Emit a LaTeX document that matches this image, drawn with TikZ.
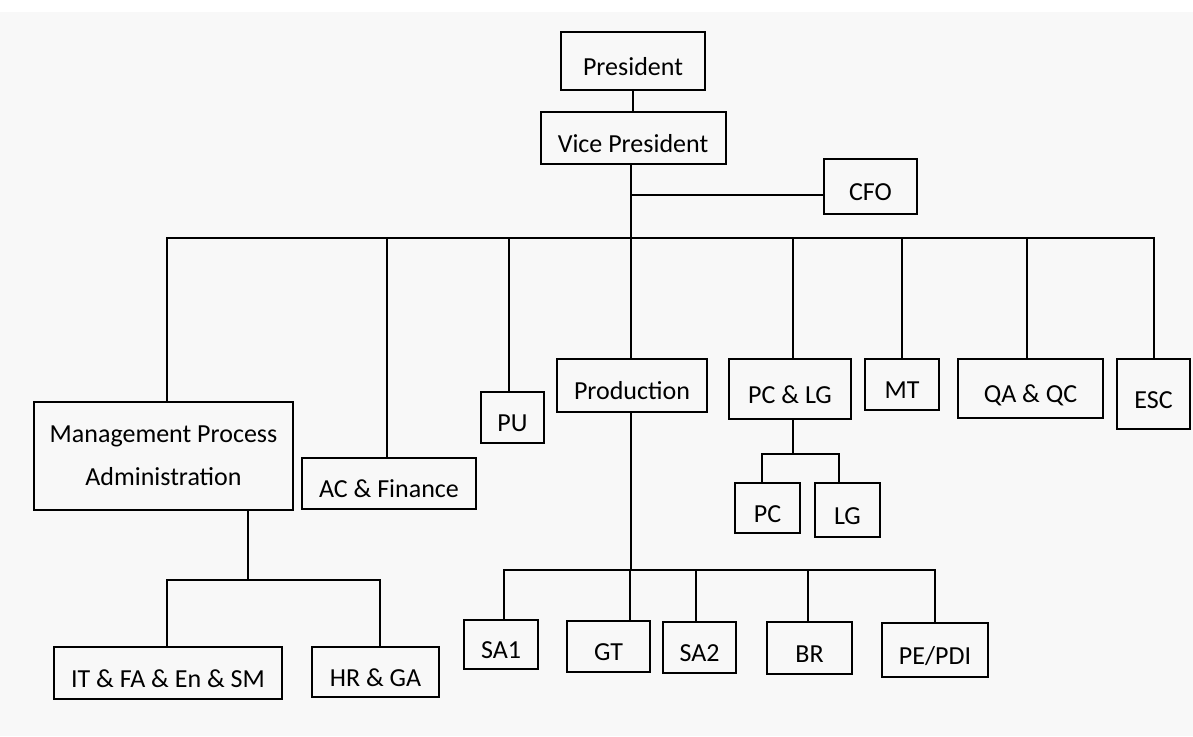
\documentclass[tikz,border=0pt]{standalone}
\usepackage{fontspec}
\setmainfont{Carlito}
\definecolor{paper}{RGB}{248,248,248}
\begin{document}
\begin{tikzpicture}[x=0.75pt,y=-0.75pt,
  unit/.style={draw,line width=1.5pt,inner sep=0pt,outer sep=0pt,
    font=\fontsize{19.5}{32}\selectfont,text height=21.5pt,text depth=0pt},
  link/.style={line width=1.9pt,line cap=rect}]
\useasboundingbox (0,0) rectangle (1193,736);
\fill[paper] (0,12) rectangle (1193,736);
\node[unit,minimum width=108pt,minimum height=43.5pt] (pres) at (633,61) {President};
\node[unit,minimum width=138.75pt,minimum height=39pt] (vp) at (633,138) {Vice President};
\node[unit,minimum width=69.75pt,minimum height=41.25pt] (cfo) at (870.5,186.5) {CFO};
\node[unit,minimum width=194.25pt,minimum height=81pt,align=center,text height={},text depth={}] (mpa) at (163.5,456) {Management Process\\Administration};
\node[unit,minimum width=130.5pt,minimum height=38.25pt] (acf) at (389,483.5) {AC \& Finance};
\node[unit,minimum width=47.25pt,minimum height=38.25pt] (pu) at (512.5,417.5) {PU};
\node[unit,minimum width=112.5pt,minimum height=39.75pt] (prod) at (632,385.5) {Production};
\node[unit,minimum width=91.5pt,minimum height=45pt] (pclg) at (790,389) {PC \& LG};
\node[unit,minimum width=55.5pt,minimum height=38.25pt] (mt) at (902,384.5) {MT};
\node[unit,minimum width=108.75pt,minimum height=44.25pt] (qaqc) at (1030.5,388.5) {QA \& QC};
\node[unit,minimum width=54.75pt,minimum height=52.5pt] (esc) at (1153.5,394) {ESC};
\node[unit,minimum width=48.75pt,minimum height=37.5pt] (pc) at (767.5,508) {PC};
\node[unit,minimum width=48.75pt,minimum height=40.5pt] (lg) at (847.5,510) {LG};
\node[unit,minimum width=171pt,minimum height=39pt] (itfa) at (168,673) {IT \& FA \& En \& SM};
\node[unit,minimum width=95.25pt,minimum height=37.5pt] (hrga) at (375.5,672) {HR \& GA};
\node[unit,minimum width=55.5pt,minimum height=36.75pt] (sa1) at (501,644.5) {SA1};
\node[unit,minimum width=62.25pt,minimum height=38.25pt] (gt) at (608.5,646.5) {GT};
\node[unit,minimum width=54.75pt,minimum height=38.25pt] (sa2) at (699.5,647.5) {SA2};
\node[unit,minimum width=63.75pt,minimum height=39pt] (br) at (809.5,648) {BR};
\node[unit,minimum width=79.5pt,minimum height=40.5pt] (pepdi) at (935,650) {PE/PDI};
\coordinate (cfoj) at (631,195);
\coordinate (bus) at (631,238);
\coordinate (mpaj) at (248,580);
\coordinate (pclgj) at (793,454);
\coordinate (prodj) at (631,570);
\draw[link] (pres) -- (vp);
\draw[link] (bus) -- (bus |- vp.south);
\draw[link] (cfoj) -- (cfoj -| cfo.west);
\draw[link] (167,238) -- (1154,238);
\foreach \n/\x in {mpa/167,acf/387,pu/509,prod/631,pclg/793,mt/902,qaqc/1027,esc/1154}
  \draw[link] (\x,238) -- (\x,238 |- \n.north);
\draw[link] (mpaj) -- (mpaj |- mpa.south);
\draw[link] (167,580) -- (380,580);
\foreach \n/\x in {itfa/167,hrga/380}
  \draw[link] (\x,580) -- (\x,580 |- \n.north);
\draw[link] (pclgj) -- (pclgj |- pclg.south);
\draw[link] (762,454) -- (839,454);
\foreach \n/\x in {pc/762,lg/839}
  \draw[link] (\x,454) -- (\x,454 |- \n.north);
\draw[link] (prodj) -- (prodj |- prod.south);
\draw[link] (504,570) -- (935,570);
\foreach \n/\x in {sa1/504,gt/630,sa2/696,br/808,pepdi/935}
  \draw[link] (\x,570) -- (\x,570 |- \n.north);
\end{tikzpicture}
\end{document}
